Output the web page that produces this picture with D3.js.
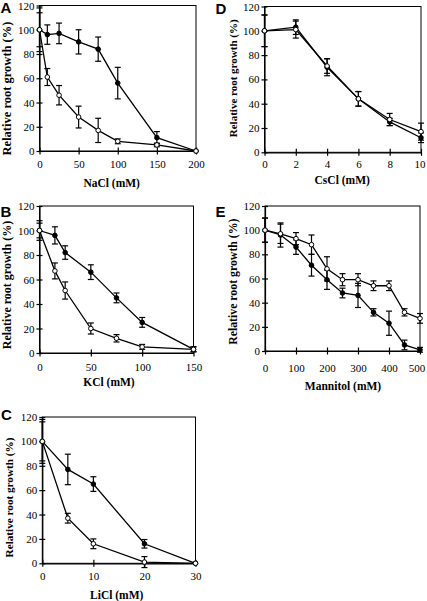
<!DOCTYPE html>
<html>
<head>
<meta charset="utf-8">
<script src="https://cdn.jsdelivr.net/npm/d3@7"></script>
<style>
  html, body { margin: 0; padding: 0; background: #fff; }
  svg { display: block; }
</style>
</head>
<body>
<div id="chart"></div>
<script>
// ---------------- DATA ----------------
const yTicks = [0, 20, 40, 60, 80, 100, 120];

// Panel A: NaCl
const concA = [0, 10, 25, 50, 75, 100, 150, 200];
const filledA = [100, 96, 97, 90, 84, 56, 11, 0];
const filledErrA = [14, 8, 8.5, 10, 10, 13, 5, 0];
const openA = [100, 61, 46, 28, 17, 8, 5, 0];
const openErrA = [18, 7, 8, 9, 10, 2, 1.5, 0];
const xTicksA = [0, 50, 100, 150, 200];
const xTitleA = "NaCl (mM)";

// Panel B: KCl
const concB = [0, 15, 25, 50, 75, 100, 150];
const filledB = [100, 96, 82, 66, 45, 25, 3];
const filledErrB = [6, 7, 5.5, 6, 4, 4, 2];
const openB = [100, 67, 51, 20, 12, 5, 3];
const openErrB = [8, 6.5, 7, 4.5, 3, 2, 2];
const xTicksB = [0, 50, 100, 150];
const xTitleB = "KCl (mM)";

// Panel C: LiCl
const concC = [0, 5, 10, 20, 30];
const filledC = [100, 77, 65, 16, 0];
const filledErrC = [16, 12.5, 6, 3.5, 0];
const openC = [100, 37, 16, 1, 0];
const openErrC = [18, 4, 4, 4.5, 0];
const xTicksC = [0, 10, 20, 30];
const xTitleC = "LiCl (mM)";

// Panel D: CsCl
const concD = [0, 2, 4, 6, 8, 10];
const filledD = [100, 103, 70, 44, 25, 12];
const filledErrD = [13, 6, 7, 6, 3, 4];
const openD = [100, 101, 71, 44, 27, 17];
const openErrD = [13, 7, 6, 6, 5, 7];
const xTicksD = [0, 2, 4, 6, 8, 10];
const xTitleD = "CsCl (mM)";

// Panel E: Mannitol
const concE = [0, 50, 100, 150, 200, 250, 300, 350, 400, 450, 500];
const filledE = [100, 96, 86, 71, 59, 48, 46, 32, 23, 5, 1];
const filledErrE = [10, 10, 6, 9, 8, 4, 10, 3, 10, 4, 2];
const openE = [100, 97, 93, 88, 68, 59, 59, 54, 54, 32, 27];
const openErrE = [10, 8, 5, 8, 10, 5, 5, 4, 4, 3, 4];
const xTicksE = [0, 100, 200, 300, 400, 500];
const xTitleE = "Mannitol (mM)";

const yTitle = "Relative root growth (%)";

// ---------------- LAYOUT ----------------
const panels = [
  { letter: "A", conc: concA, filled: filledA, fErr: filledErrA, open: openA, oErr: openErrA, xTicks: xTicksA, title: xTitleA,
    box: { l: 39.5, r: 196, t: 5.5, b: 151 }, letterPos: [0.5, 13.3], xLabDy: 13, xTitlePos: [111.7, 186.7],
    yTitlePos: [10.5, 88.5], yTitleSize: 12.5, lastLabelShift: 0 },
  { letter: "B", conc: concB, filled: filledB, fErr: filledErrB, open: openB, oErr: openErrB, xTicks: xTicksB, title: xTitleB,
    box: { l: 39.5, r: 193.5, t: 206, b: 353 }, letterPos: [0.5, 216.5], xLabDy: 14, xTitlePos: [109, 386],
    yTitlePos: [10.5, 285], yTitleSize: 12, lastLabelShift: 0 },
  { letter: "C", conc: concC, filled: filledC, fErr: filledErrC, open: openC, oErr: openErrC, xTicks: xTicksC, title: xTitleC,
    box: { l: 42.3, r: 195.5, t: 417, b: 563.3 }, letterPos: [1, 420.3], xLabDy: 12.5, xTitlePos: [116.7, 599],
    yTitlePos: [12.5, 497.5], yTitleSize: 11.2, lastLabelShift: 0 },
  { letter: "D", conc: concD, filled: filledD, fErr: filledErrD, open: openD, oErr: openErrD, xTicks: xTicksD, title: xTitleD,
    box: { l: 264.5, r: 421, t: 6.5, b: 152.3 }, letterPos: [215.5, 14.3], xLabDy: 11.5, xTitlePos: [342.2, 184],
    yTitlePos: [237, 78.3], yTitleSize: 11, lastLabelShift: -1.5 },
  { letter: "E", conc: concE, filled: filledE, fErr: filledErrE, open: openE, oErr: openErrE, xTicks: xTicksE, title: xTitleE,
    box: { l: 265, r: 420, t: 206, b: 351 }, letterPos: [215.5, 216.7], xLabDy: 17, xTitlePos: [343, 389.5],
    yTitlePos: [237, 281.7], yTitleSize: 11.8, lastLabelShift: -3.5 }
];

const SERIF = "'Liberation Serif', 'Times New Roman', serif";
const SANS = "'Liberation Sans', Arial, sans-serif";

const svg = d3.select("#chart").append("svg")
  .attr("width", 427).attr("height", 601)
  .attr("viewBox", "0 0 427 601");
svg.append("rect").attr("width", 427).attr("height", 601).attr("fill", "#fff");

panels.forEach(p => {
  const g = svg.append("g");
  const xMax = d3.max(p.xTicks);
  const x = d3.scaleLinear().domain([0, xMax]).range([p.box.l, p.box.r]);
  const y = d3.scaleLinear().domain([0, 120]).range([p.box.b, p.box.t]);

  // frame
  g.append("rect")
    .attr("x", p.box.l).attr("y", p.box.t)
    .attr("width", p.box.r - p.box.l).attr("height", p.box.b - p.box.t)
    .attr("fill", "none").attr("stroke", "#000").attr("stroke-width", 1);

  // y axis (ticks crossing)
  const yAxis = g.append("g").attr("transform", `translate(${p.box.l},0)`)
    .call(d3.axisLeft(y).tickValues(yTicks).tickSize(0).tickPadding(5));
  yAxis.select(".domain").attr("stroke", "#000").attr("stroke-width", 1.2);
  yAxis.selectAll(".tick text").attr("font-family", SERIF).attr("font-size", 11).attr("fill", "#000");
  yAxis.selectAll(".tick").append("line").attr("x1", -3).attr("x2", 3).attr("stroke", "#000").attr("stroke-width", 1.2);

  // x axis (ticks crossing)
  const xAxis = g.append("g").attr("transform", `translate(0,${p.box.b})`)
    .call(d3.axisBottom(x).tickValues(p.xTicks).tickSize(0).tickPadding(0));
  xAxis.select(".domain").attr("stroke", "#000").attr("stroke-width", 1.2);
  xAxis.selectAll(".tick text").attr("font-family", SERIF).attr("font-size", 11).attr("fill", "#000")
    .attr("y", p.xLabDy + 3.8).attr("dy", null)
    .attr("x", (d, i, n) => i === n.length - 1 ? p.lastLabelShift : 0);
  xAxis.selectAll(".tick").append("line").attr("y1", -3.5).attr("y2", 3.5).attr("stroke", "#000").attr("stroke-width", 1.2);

  // series
  const series = [
    { vals: p.filled, err: p.fErr, fill: "#000" },
    { vals: p.open, err: p.oErr, fill: "#fff" }
  ];
  const line = d3.line().x(d => x(d[0])).y(d => y(d[1]));

  series.forEach(s => {
    const pts = p.conc.map((c, i) => [c, s.vals[i], s.err[i]]);
    g.append("path").datum(pts).attr("d", line)
      .attr("fill", "none").attr("stroke", "#000").attr("stroke-width", 1.3);
  });
  series.forEach(s => {
    const pts = p.conc.map((c, i) => [c, s.vals[i], s.err[i]]).filter(d => d[2] > 0);
    const eg = g.append("g").attr("stroke", "#000").attr("stroke-width", 1.2);
    eg.selectAll("line.v").data(pts).join("line").attr("class", "v")
      .attr("x1", d => x(d[0])).attr("x2", d => x(d[0]))
      .attr("y1", d => y(d[1] + d[2])).attr("y2", d => y(d[1] - d[2]));
    eg.selectAll("line.t").data(pts).join("line").attr("class", "t")
      .attr("x1", d => x(d[0]) - 3).attr("x2", d => x(d[0]) + 3)
      .attr("y1", d => y(d[1] + d[2])).attr("y2", d => y(d[1] + d[2]));
    eg.selectAll("line.b").data(pts).join("line").attr("class", "b")
      .attr("x1", d => x(d[0]) - 3).attr("x2", d => x(d[0]) + 3)
      .attr("y1", d => y(d[1] - d[2])).attr("y2", d => y(d[1] - d[2]));
  });
  series.forEach(s => {
    const pts = p.conc.map((c, i) => [c, s.vals[i]]);
    g.selectAll(null).data(pts).join("circle")
      .attr("cx", d => x(d[0])).attr("cy", d => y(d[1]))
      .attr("r", 2.3).attr("fill", s.fill).attr("stroke", "#000").attr("stroke-width", 1);
  });

  // panel letter
  g.append("text").attr("x", p.letterPos[0]).attr("y", p.letterPos[1])
    .attr("font-family", SANS).attr("font-weight", "bold").attr("font-size", 15).text(p.letter);

  // x title
  g.append("text").attr("x", p.xTitlePos[0]).attr("y", p.xTitlePos[1])
    .attr("text-anchor", "middle").attr("font-family", SERIF).attr("font-weight", "bold")
    .attr("font-size", 11.5).text(p.title);

  // y title
  g.append("text")
    .attr("transform", `translate(${p.yTitlePos[0]},${p.yTitlePos[1]}) rotate(-90)`)
    .attr("text-anchor", "middle").attr("font-family", SERIF).attr("font-weight", "bold")
    .attr("font-size", p.yTitleSize).text(yTitle);
});
</script>
</body>
</html>
